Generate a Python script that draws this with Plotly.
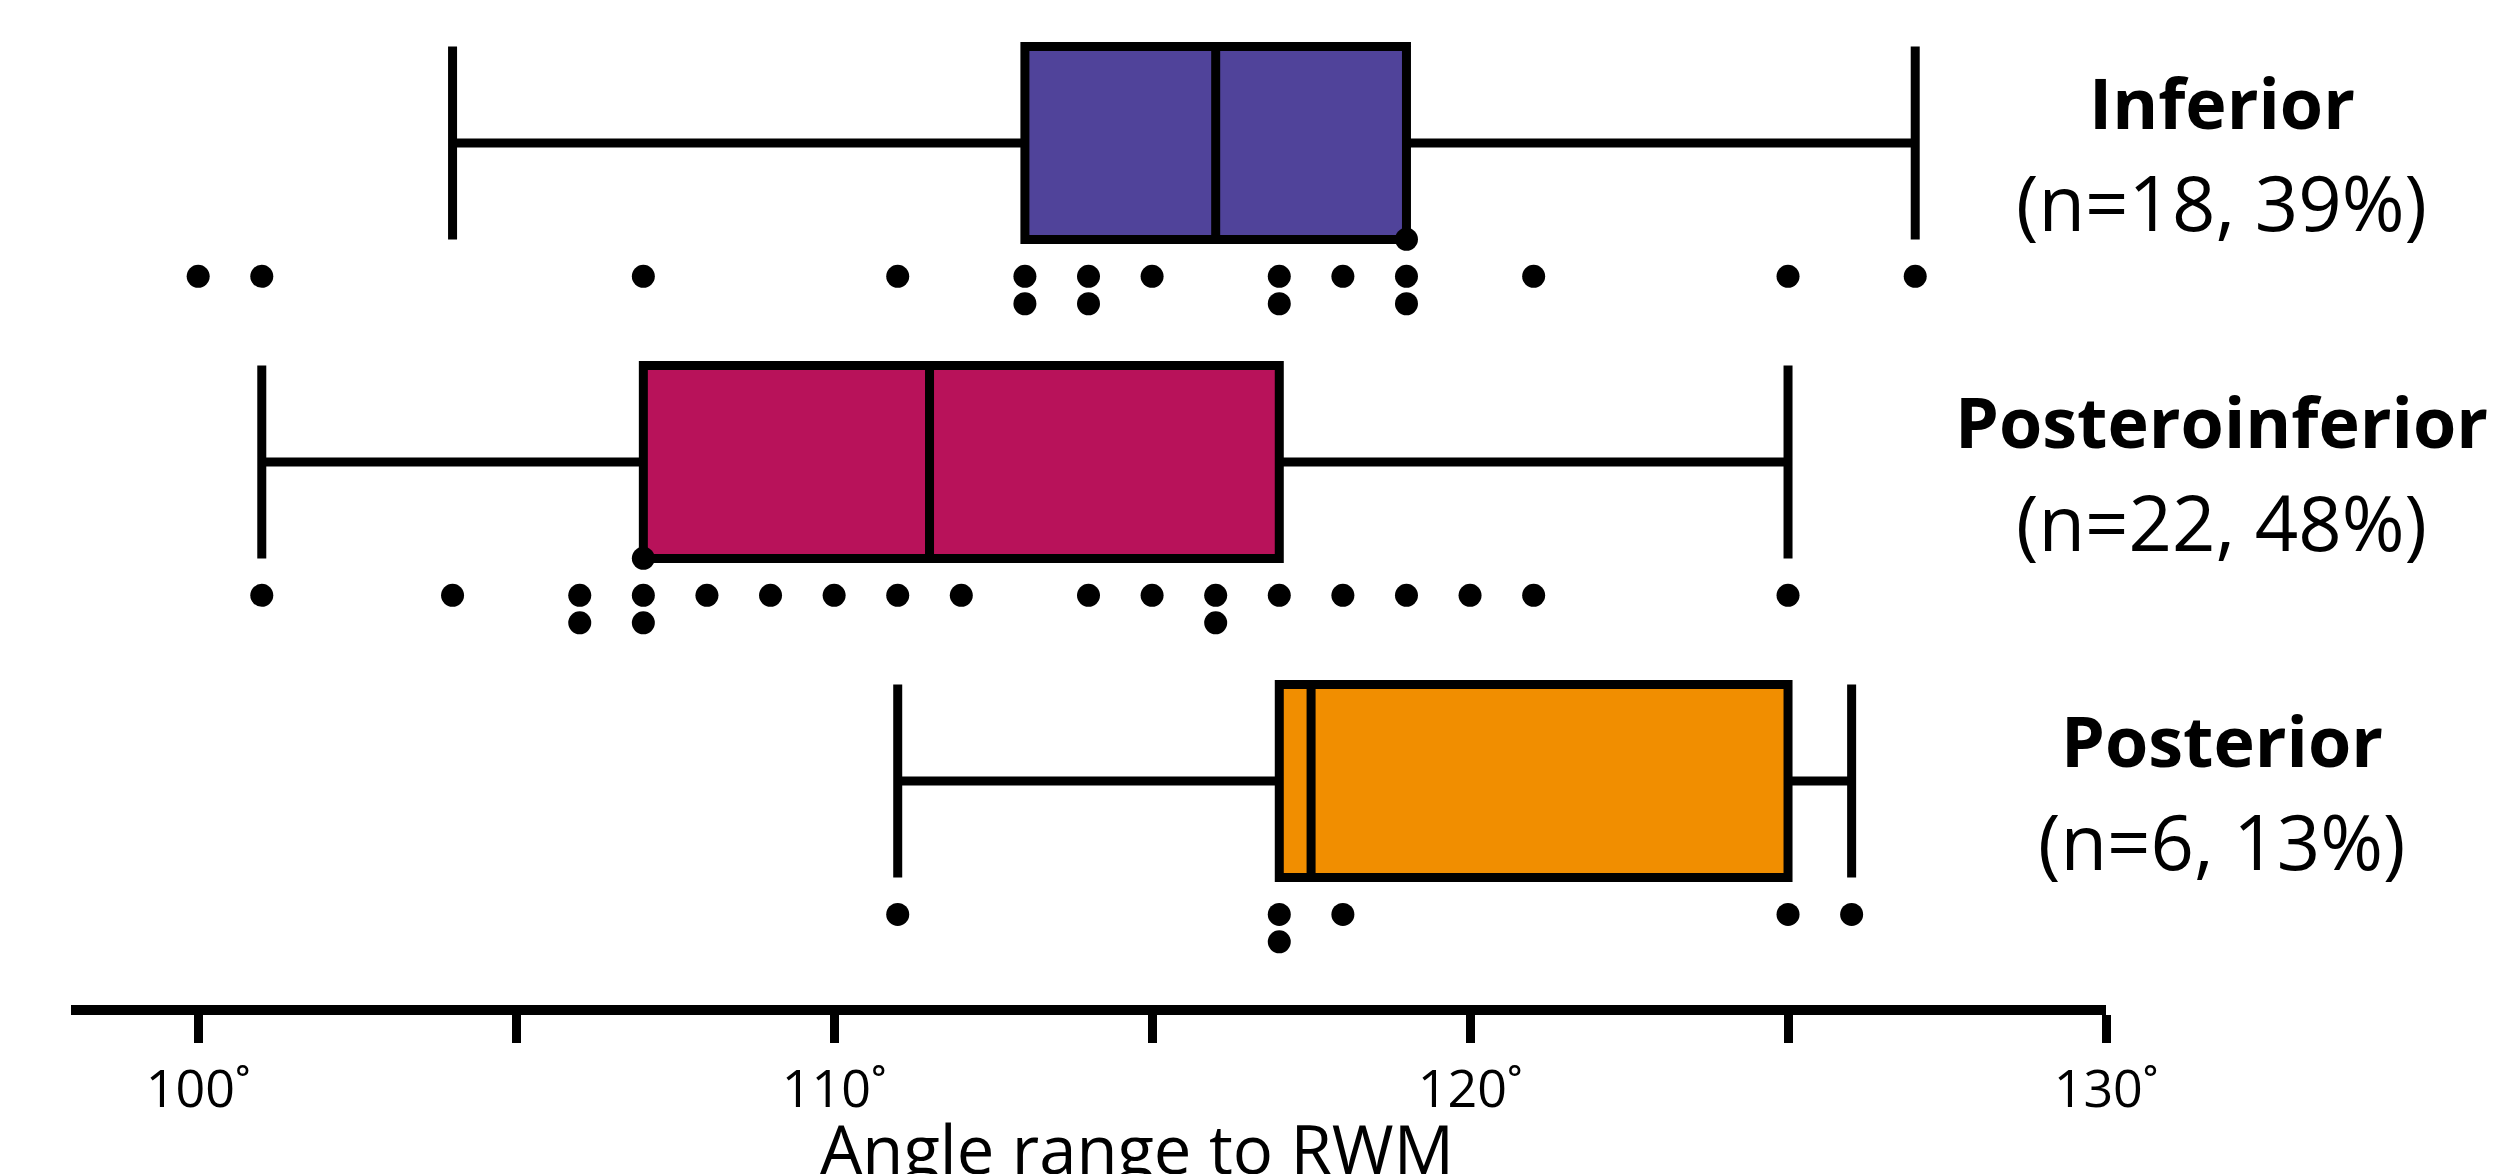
import plotly.graph_objects as go
from collections import Counter

# ---- data ----
groups = ["Inferior", "Posteroinferior", "Posterior"]
group_counts = ["(n=18, 39%)", "(n=22, 48%)", "(n=6, 13%)"]
group_pos = [2, 1, 0]
colors = ["#50439A", "#B8125A", "#F18E00"]

q1 = [113, 107, 117]
median = [116, 111.5, 117.5]
q3 = [119, 117, 125]
lower = [104, 101, 111]
upper = [127, 125, 126]

values_inferior = [100, 101, 107, 111, 113, 113, 114, 114, 115, 117, 117, 118,
                   119, 119, 119, 121, 125, 127]
values_posteroinferior = [101, 104, 106, 106, 107, 107, 107, 108, 109, 110, 111,
                          112, 114, 115, 116, 116, 117, 118, 119, 120, 121, 125]
values_posterior = [111, 117, 117, 118, 125, 126]
all_values = [values_inferior, values_posteroinferior, values_posterior]

tick_vals = [100, 105, 110, 115, 120, 125, 130]
tick_text = ["100˚", "", "110˚", "", "120˚", "", "130˚"]
x_title = "Angle range to RWM"

# ---- layout constants ----
BOX_W = 0.605
ROW_OFFSETS = [0.418, 0.504, 0.302]  # 1st, 2nd, 3rd occurrence of a value

fig = go.Figure()

for i, g in enumerate(groups):
    fig.add_trace(go.Box(
        y=[group_pos[i]], q1=[q1[i]], median=[median[i]], q3=[q3[i]],
        lowerfence=[lower[i]], upperfence=[upper[i]],
        orientation="h", width=BOX_W, whiskerwidth=1,
        fillcolor=colors[i], line=dict(color="black", width=9),
        boxpoints=False, showlegend=False, hoverinfo="skip",
    ))
    seen = Counter()
    xs, ys = [], []
    for v in all_values[i]:
        k = seen[v]
        seen[v] += 1
        xs.append(v)
        ys.append(group_pos[i] - ROW_OFFSETS[min(k, 2)])
    fig.add_trace(go.Scatter(
        x=xs, y=ys, mode="markers", showlegend=False,
        marker=dict(symbol="circle", size=23, color="black",
                    line=dict(width=0)),
    ))

annotations = []
for i, g in enumerate(groups):
    annotations.append(dict(
        x=1.057, xref="paper", y=group_pos[i] + 0.128, yref="y",
        text="<b>" + g + "</b>", showarrow=False, xanchor="center", yanchor="middle",
        font=dict(family="Open Sans", size=70, color="black"),
    ))
    annotations.append(dict(
        x=1.057, xref="paper", y=group_pos[i] - 0.185, yref="y",
        text=group_counts[i], showarrow=False, xanchor="center", yanchor="middle",
        font=dict(family="Open Sans", size=76, color="black"),
    ))
annotations.append(dict(
    x=0.524, xref="paper", y=-0.095, yref="paper",
    text=x_title, showarrow=False, xanchor="center", yanchor="top",
    font=dict(family="Open Sans", size=67, color="black"),
))

fig.update_layout(
    width=2520, height=1174, autosize=False,
    margin=dict(l=63, r=422, t=0, b=177),
    paper_bgcolor="white", plot_bgcolor="white",
    annotations=annotations,
    xaxis=dict(
        range=[98.0, 130], showgrid=False, zeroline=False, automargin=False,
        showline=True, linecolor="black", linewidth=10,
        ticks="outside", ticklen=28, tickwidth=9, tickcolor="black",
        tickvals=tick_vals, ticktext=tick_text, ticklabelstandoff=2,
        tickfont=dict(family="Open Sans", size=52, color="black"),
    ),
    yaxis=dict(range=[-0.702, 2.423], visible=False, showgrid=False, zeroline=False),
)

fig.write_html("out.html")
